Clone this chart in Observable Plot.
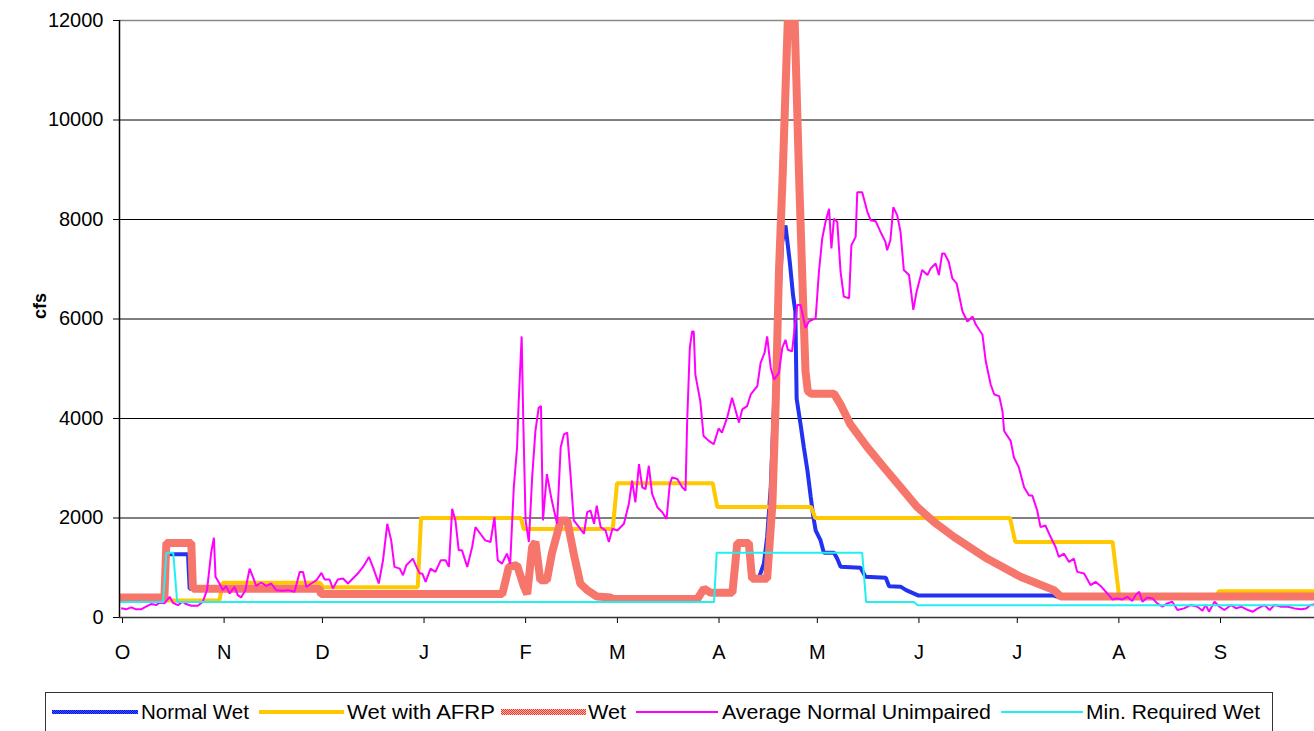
<!DOCTYPE html>
<html>
<head>
<meta charset="utf-8">
<script src="https://cdn.jsdelivr.net/npm/d3@7"></script>
<script src="https://cdn.jsdelivr.net/npm/@observablehq/plot@0.6"></script>
<style>
  html, body { margin: 0; padding: 0; background: #fff; }
  #chart svg { display: block; }
  #legend { display: block; }
</style>
</head>
<body>
<svg width="0" height="0" style="position:absolute">
  <defs>
    <pattern id="redHatch" width="2" height="2" patternUnits="userSpaceOnUse">
      <rect width="2" height="2" fill="#ffb2a8"/>
      <rect x="0" y="0" width="1" height="1" fill="#ec3a2e"/>
      <rect x="1" y="1" width="1" height="1" fill="#ec3a2e"/>
    </pattern>
    <pattern id="blueHatch" width="2" height="2" patternUnits="userSpaceOnUse">
      <rect width="2" height="2" fill="#4455ff"/>
      <rect x="0" y="0" width="1" height="1" fill="#0010e0"/>
      <rect x="1" y="1" width="1" height="1" fill="#0010e0"/>
    </pattern>
  </defs>
</svg>
<div id="chart"></div>
<div id="legendWrap"></div>
<script>
// ---- axis definitions ----
const monthStarts = [0, 31, 61, 92, 123, 151, 182, 212, 243, 273, 304, 335];
const monthLabels = ["O", "N", "D", "J", "F", "M", "A", "M", "J", "J", "A", "S"];
const yTicks = [0, 2000, 4000, 6000, 8000, 10000, 12000];
const yLabel = "cfs";

// ---- series: [day since Oct 1, cfs] ----
const normalWet = [[0,400],[13.6,400],[14.3,1270],[20.9,1270],[21.4,580],[61,580],[61.5,470],[116.8,470],[118.8,1020],[121.3,1050],[123.4,620],[124.4,470],[125.9,1420],[126.9,1520],[128.4,750],[130.4,750],[131.9,1280],[134.6,1950],[136.6,1950],[138.6,1280],[140.6,680],[142.7,550],[145.7,420],[149.8,400],[150.8,370],[176.3,370],[178.3,580],[180.3,500],[187,500],[188.5,1500],[192,1500],[193,780],[195.1,800],[196.6,1080],[197.6,1620],[198.7,2620],[199.9,4620],[201.2,6280],[202.2,7550],[203.2,7880],[204.5,7150],[205.5,6480],[206.2,6150],[206.6,4400],[207.8,3880],[208.8,3420],[209.9,2950],[210.9,2420],[211.7,2020],[212.4,1750],[213.9,1550],[214.9,1300],[218,1300],[219,1180],[220,1020],[226.1,1000],[227.6,820],[233.8,800],[234.8,630],[238.3,620],[240,550],[243.8,440],[285,440],[286,420],[365,420]];

const wetAFRP = [[0,340],[30.5,340],[31.5,700],[61,700],[62.2,610],[91,610],[92,2000],[122.5,2000],[123.3,1780],[150.5,1780],[151.8,2700],[181,2700],[182.4,2220],[211,2220],[212.3,2000],[271.7,2000],[273.3,1520],[303,1520],[305,420],[334.5,420],[335.5,530],[365,530]];

const wet = [[0,400],[13.7,400],[14.3,1500],[21.9,1500],[22.4,580],[61,580],[61.5,470],[116.8,470],[118.8,1020],[121.3,1050],[123.4,620],[124.4,470],[125.9,1420],[126.9,1520],[128.4,750],[130.4,750],[131.9,1280],[134.6,1950],[136.6,1950],[138.6,1280],[140.6,680],[142.7,550],[145.7,420],[149.8,400],[150.8,370],[176.3,370],[178.3,580],[180.3,500],[187,500],[188.5,1500],[192,1500],[193,780],[197.6,780],[199.2,2280],[200.2,4280],[201.2,6950],[202.4,9000],[203.9,12000],[204.5,12700],[205.4,12700],[206,12000],[207.3,8950],[208.6,6280],[209.3,4950],[210,4550],[211,4500],[218,4500],[220,4280],[223,3880],[228.2,3420],[233.2,3020],[238.3,2620],[243.4,2220],[248.5,1920],[254.6,1620],[264.8,1180],[274.9,820],[285.1,550],[287.2,420],[365,420]];

const avgUnimpaired = [[0.5,184],[2,164],[3.6,204],[5.1,164],[6.6,164],[8.1,217],[9.6,270],[11.2,250],[12.2,297],[13.7,284],[15.3,417],[16.3,297],[17.8,250],[19.3,317],[20.3,270],[21.9,237],[23.9,237],[25.4,317],[26.7,550],[28,1317],[28.8,1603],[29.3,817],[30.5,683],[31.5,550],[32.5,630],[33.6,483],[35.1,617],[36.1,450],[37.1,403],[38.4,550],[39.7,983],[40.7,817],[41.7,637],[43.2,703],[44.8,637],[46.3,683],[47.8,550],[49.8,537],[51.4,550],[53.4,517],[55,917],[56,917],[57,617],[58.5,683],[60.1,750],[61.6,897],[62.6,763],[64.1,763],[65.1,583],[66.6,763],[68.2,783],[69.7,683],[71.2,783],[72.7,883],[74.3,1017],[76.1,1217],[77.3,1017],[79.1,683],[80.4,1150],[81.7,1883],[82.9,1550],[83.9,1017],[85.5,983],[86.5,850],[87.5,1050],[89.5,1183],[90.6,1017],[91.6,883],[92.4,883],[93.4,717],[94.9,983],[96.4,917],[98,1150],[99.5,1150],[100.5,1017],[101.5,2183],[102.5,1950],[103.5,1350],[104.5,1350],[106.1,1017],[107.6,1417],[108.6,1817],[110.1,1683],[111.6,1550],[113.2,1517],[114.4,2017],[115.4,1150],[116.7,1083],[118.2,1283],[119.2,1083],[120.3,2617],[121.3,3417],[121.8,4350],[122.7,5650],[123.2,3950],[123.9,1950],[124.9,1517],[125.9,2817],[126.9,3750],[127.9,4217],[128.6,4250],[129.2,1950],[130.4,2883],[131.9,2350],[133.5,1883],[134.6,3417],[135.6,3683],[136.6,3717],[137.6,2883],[138.6,1950],[140.2,1817],[141.7,1683],[142.7,2117],[143.7,2150],[144.8,1883],[145.6,2250],[146.8,1817],[148.3,1750],[149.3,1517],[150.4,1783],[151.9,1750],[153.9,1883],[155.4,2283],[156.4,2750],[157.4,2317],[158.5,3083],[159.5,2617],[160.5,2583],[161.5,3050],[162.5,2483],[164.1,2217],[165.6,2117],[166.9,1983],[167.9,2683],[168.6,2817],[170.2,2783],[171.7,2617],[172.7,2550],[173.2,3950],[174,5417],[174.7,5750],[175.2,5750],[175.7,4883],[177.2,4350],[178.2,3650],[179.8,3550],[181.3,3483],[182.8,3800],[183.8,3717],[185.4,4017],[186.9,4417],[187.9,4183],[189,3917],[190,4183],[191.5,4250],[192.6,4483],[194.6,4650],[195.6,5117],[196.8,5317],[197.6,5650],[198.7,5017],[199.7,4783],[201.2,4917],[202.2,5417],[203.2,5583],[203.9,5383],[205.2,5350],[206,5817],[206.8,6283],[207.8,6283],[209.3,5817],[210.3,5950],[212.4,6017],[213.4,6950],[214.4,7617],[215.4,7950],[216.5,8217],[217.2,7417],[218,8017],[219,7950],[220,6950],[221,6450],[222.6,6417],[223.3,7483],[224.6,7650],[225.1,8550],[226.6,8550],[228.2,8150],[229.2,7983],[230.7,7967],[232.2,7750],[233.7,7550],[234.2,7383],[235.2,7583],[236.1,8250],[237.3,8083],[238.3,7750],[239.3,6983],[240.9,6883],[242.2,6183],[243.2,6550],[244.9,6983],[246.5,6883],[247.5,7017],[249,7117],[250,6883],[251,7317],[251.7,7317],[253,7150],[254.1,6817],[255.4,6717],[257.2,6150],[258.7,5950],[260.3,6050],[261.3,5883],[263.3,5683],[264.3,5150],[265.8,4683],[266.9,4483],[268.4,4450],[269.4,4150],[269.9,3750],[271.9,3550],[272.9,3217],[274.4,3017],[276,2617],[277.5,2450],[278.5,2450],[280,2150],[281,1817],[282.5,1850],[284.1,1617],[285.6,1417],[286.6,1217],[288.2,1283],[289.7,1117],[291.2,1183],[292.2,917],[294.3,883],[296.3,650],[297.8,717],[299.4,630],[301.4,483],[302.9,363],[304.4,383],[306,363],[307.5,417],[309,330],[310,450],[311.1,517],[312.1,317],[313.6,403],[315.2,383],[316.6,283],[318.2,217],[319.7,283],[321.2,317],[322.8,150],[324.8,183],[326.8,250],[328.9,217],[330.4,137],[331.4,250],[332.4,117],[334.1,317],[335.6,217],[337.1,150],[339.2,250],[340.7,183],[342.2,217],[344.3,150],[345.8,117],[347.3,183],[349.3,250],[350.9,150],[352.4,250],[354.4,217],[356.5,217],[358.5,183],[360.5,167],[362.1,183],[363.4,250],[364.5,260]];

const minRequired = [[0,310],[13.3,310],[14.3,1300],[16.4,1300],[17.6,310],[181.4,310],[182.2,1300],[226.6,1300],[227.8,310],[242.4,310],[243.6,245],[365,245]];

// ---- legend ----
const legendNames = ["Normal Wet", "Wet with AFRP", "Wet", "Average Normal Unimpaired", "Min. Required Wet"];

const toRows = arr => arr.map(([d, v]) => ({d, v}));

const lineOpts = (stroke, strokeWidth) => ({
  x: "d", y: "v", stroke, strokeWidth, clip: true,
  strokeLinejoin: "miter", strokeLinecap: "butt", curve: "linear"
});

const chart = Plot.plot({
  width: 1314,
  height: 680,
  marginLeft: 119,
  marginRight: 0,
  marginTop: 20,
  marginBottom: 63,
  x: {domain: [0, 364.6], axis: null},
  y: {domain: [0, 12000], axis: null},
  style: {fontFamily: "'Liberation Sans', Arial, sans-serif", fontSize: "20px", background: "white", color: "black", overflow: "visible"},
  marks: [
    Plot.ruleY(yTicks.filter(t => t > 0 && t < 12000), {stroke: "#000", strokeWidth: 1}),
    Plot.ruleY([12000], {stroke: "#888", strokeWidth: 1.5}),
    Plot.axisY({ticks: yTicks, tickSize: 6, tickPadding: 10, label: null, fontSize: 20, tickFormat: d => String(d)}),
    Plot.axisX({ticks: monthStarts, tickFormat: d => monthLabels[monthStarts.indexOf(d)], tickSize: 6, tickPadding: 21, label: null, fontSize: 20, dx: 3}),
    Plot.line(toRows(normalWet), lineOpts("url(#blueHatch)", 4)),
    Plot.line(toRows(wetAFRP), lineOpts("#ffc800", 4)),
    Plot.line(toRows(wet), lineOpts("url(#redHatch)", 8)),
    Plot.line(toRows(avgUnimpaired), lineOpts("#ff00ff", 2)),
    Plot.line(toRows(minRequired), lineOpts("#22f0f0", 2)),
    Plot.ruleX([0], {stroke: "#000", strokeWidth: 1.5}),
    Plot.ruleY([0], {stroke: "#333", strokeWidth: 1.5}),
    Plot.text([yLabel], {text: d => d, frameAnchor: "left", dx: -79, rotate: -90, fontWeight: "bold", fontSize: 18})
  ]
});
document.getElementById("chart").appendChild(chart);

// legend built below the plot
const legendItems = [
  {name: legendNames[0], stroke: "url(#blueHatch)", sw: 4, x1: 52, x2: 138, tx: 141, tw: 108},
  {name: legendNames[1], stroke: "#ffc800", sw: 4, x1: 259, x2: 344, tx: 347, tw: 148},
  {name: legendNames[2], stroke: "url(#redHatch)", sw: 6, x1: 501, x2: 586, tx: 588, tw: 38},
  {name: legendNames[3], stroke: "#ff00ff", sw: 2, x1: 636, x2: 718, tx: 722, tw: 269},
  {name: legendNames[4], stroke: "#22f0f0", sw: 2, x1: 1001, x2: 1083, tx: 1086, tw: 174}
];
const ns = "http://www.w3.org/2000/svg";
const lg = document.createElementNS(ns, "svg");
lg.setAttribute("width", 1314);
lg.setAttribute("height", 51);
lg.setAttribute("id", "legend");
lg.style.fontFamily = "'Liberation Sans', Arial, sans-serif";
const box = document.createElementNS(ns, "rect");
box.setAttribute("x", 45.5); box.setAttribute("y", 12.5);
box.setAttribute("width", 1227); box.setAttribute("height", 50);
box.setAttribute("fill", "white"); box.setAttribute("stroke", "#333"); box.setAttribute("stroke-width", 1);
lg.appendChild(box);
const cy = 32;
for (const it of legendItems) {
  const ln = document.createElementNS(ns, "line");
  ln.setAttribute("x1", it.x1); ln.setAttribute("x2", it.x2);
  ln.setAttribute("y1", cy); ln.setAttribute("y2", cy);
  ln.setAttribute("stroke", it.stroke); ln.setAttribute("stroke-width", it.sw);
  lg.appendChild(ln);
  const tx = document.createElementNS(ns, "text");
  tx.setAttribute("x", it.tx); tx.setAttribute("y", cy);
  tx.setAttribute("dy", "0.35em");
  tx.setAttribute("font-size", 20);
  tx.setAttribute("textLength", it.tw);
  tx.setAttribute("lengthAdjust", "spacingAndGlyphs");
  tx.textContent = it.name;
  lg.appendChild(tx);
}
document.getElementById("legendWrap").appendChild(lg);
</script>
</body>
</html>
